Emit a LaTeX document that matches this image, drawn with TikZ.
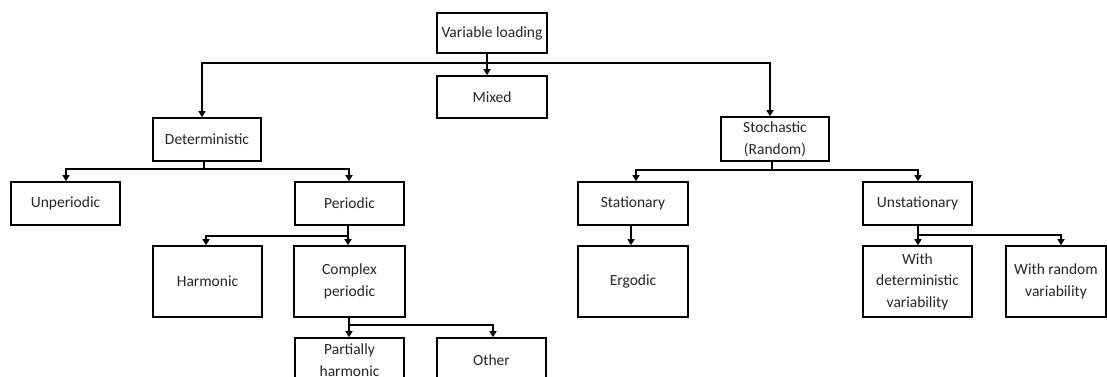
\documentclass[tikz,border=0pt]{standalone}
\usepackage{fontspec}
\setmainfont{Carlito}
\usetikzlibrary{arrows.meta}
\begin{document}
\begin{tikzpicture}[x=1pt,y=-1pt,
  box/.style={draw=black,line width=1.7pt,minimum width=109pt,minimum height=43pt,inner sep=0pt,align=center,font=\fontsize{15.5}{21.5}\selectfont,text=black!85},
  tall/.style={box,minimum height=71pt},
  conn/.style={line width=1.7pt,-{Triangle[length=6pt,width=7pt]}},
  line/.style={line width=1.7pt}]
\useasboundingbox (0,0) rectangle (1107,377);
\clip (0,0) rectangle (1107,377);
\fill[white] (0,0) rectangle (1107,377);
% nodes
\node[box,minimum width=110pt,minimum height=40pt] (vl) at (492,33) {Variable loading};
\node[box,minimum width=110pt,minimum height=42pt] (mixed) at (492,97) {Mixed};
\node[box,minimum width=108pt] (det) at (207,139.5) {Deterministic};
\node[box,minimum width=108pt,minimum height=44pt] (sto) at (775,139) {Stochastic\\(Random)};
\node[box] (unp) at (65.5,203.5) {Unperiodic};
\node[box] (per) at (349.5,203.5) {Periodic};
\node[box,minimum width=110pt] (sta) at (633,203.5) {Stationary};
\node[box] (uns) at (917.5,203.5) {Unstationary};
\node[tall] (har) at (207.5,281.5) {Harmonic};
\node[tall,minimum width=111pt] (cp) at (349.5,281.5) {Complex\\periodic};
\node[tall,minimum width=110pt] (erg) at (633,281.5) {Ergodic};
\node[tall] (wdv) at (917.5,281.5) {With\\deterministic\\variability};
\node[tall,minimum width=100pt] (wrv) at (1056,281.5) {With random\\variability};
\node[box,minimum height=44pt] (ph) at (349.5,360) {Partially\\harmonic};
\node[box,minimum height=44pt] (oth) at (491.5,360) {Other};
% buses
\coordinate (b1) at (487,63);
\coordinate (b2) at (204,169);
\coordinate (b3) at (772,170);
\coordinate (b4) at (348,236);
\coordinate (b5) at (349,325);
\coordinate (b6) at (918,235);
\draw[conn] ([xshift=-5pt]vl.south) -- ([xshift=-5pt]mixed.north);
\draw[conn] (b1) -| ([xshift=-5pt]det.north);
\draw[conn] (b1) -| ([xshift=-5pt]sto.north);
\draw[line] ([xshift=-3pt]det.south) -- (b2);
\draw[conn] (b2) -| ([xshift=0.5pt]unp.north);
\draw[conn] (b2) -| ([xshift=-0.5pt]per.north);
\draw[line] ([xshift=-3pt]sto.south) -- (b3);
\draw[conn] (b3) -| ([xshift=3pt]sta.north);
\draw[conn] (b3) -| ([xshift=0.5pt]uns.north);
\draw[conn] ([xshift=-2pt]sta.south) -- ([xshift=-2pt]erg.north);
\draw[line] ([xshift=-1.5pt]per.south) -- (b4);
\draw[conn] (b4) -| ([xshift=-1.5pt]har.north);
\draw[conn] (b4) -| ([xshift=-1.5pt]cp.north);
\draw[line] ([xshift=-0.5pt]cp.south) -- (b5);
\draw[conn] (b5) -| ([xshift=-0.5pt]ph.north);
\draw[conn] (b5) -| ([xshift=1.5pt]oth.north);
\draw[line] ([xshift=0.5pt]uns.south) -- (b6);
\draw[conn] (b6) -| ([xshift=0.5pt]wdv.north);
\draw[conn] (b6) -| ([xshift=5pt]wrv.north);
\end{tikzpicture}
\end{document}
